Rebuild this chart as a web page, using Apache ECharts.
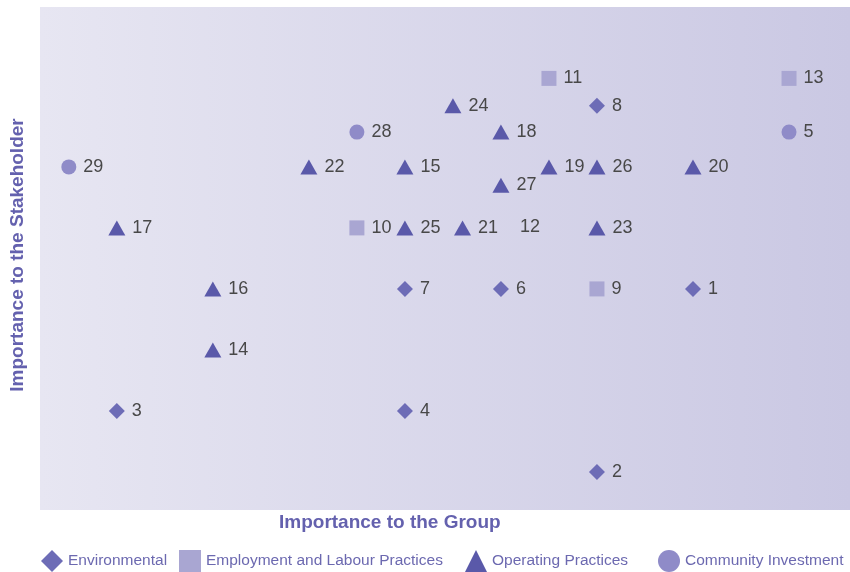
<!DOCTYPE html>
<html>
<head>
<meta charset="utf-8">
<script src="https://cdn.jsdelivr.net/npm/echarts@6/dist/echarts.min.js"></script>
<style>html,body{margin:0;padding:0;background:#fff;}#c{width:850px;height:572px;}</style>
</head>
<body>
<div id="c"></div>
<script>
// [id, importance to group, importance to stakeholder]
const environmental = [[8,12,7],[7,8,4],[6,10,4],[1,14,4],[3,2,2],[4,8,2],[2,12,1]];
const employment = [[11,11,7.45],[13,16,7.45],[10,7,5],[9,12,4]];
const operating = [[24,9,7],[18,10,6.57],[22,6,6],[15,8,6],[19,11,6],[26,12,6],[20,14,6],[27,10,5.7],[17,2,5],[25,8,5],[21,9.2,5],[23,12,5],[16,4,4],[14,4,3]];
const community = [[28,7,6.57],[29,1,6],[5,16,6.57]];
const unmarked = [[12,10.25,5.02]];
const seriesNames = ['Environmental','Employment and Labour Practices','Operating Practices','Community Investment'];
const xTitle = 'Importance to the Group';
const yTitle = 'Importance to the Stakeholder';

const colors = {env:'#6d6cb6', emp:'#a9a6d2', op:'#5a59a9', com:'#8f8bc8'};
const labelStyle = {show:true, position:'right', distance:7, color:'#484848', fontSize:18, fontFamily:'Liberation Sans, Arial, sans-serif', formatter:p=>p.value[2]};
function toData(arr){return arr.map(d=>({value:[d[1],d[2],d[0]]}));}

const chart = echarts.init(document.getElementById('c'), null, {renderer:'canvas'});
const legendBase = {top:550, itemWidth:22, itemHeight:22, itemGap:5, padding:0, textStyle:{color:'#6c69b0', fontSize:15.5, fontFamily:'Liberation Sans, Arial, sans-serif'}};
chart.setOption({
  animation:false,
  grid:{left:40, right:0, top:7, bottom:62, show:true, borderWidth:0,
    backgroundColor:new echarts.graphic.LinearGradient(0,0,1,0,[{offset:0,color:'#e7e6f2'},{offset:1,color:'#cac8e3'}])},
  xAxis:{type:'value', min:0.4, max:17.27, axisLine:{show:false}, axisTick:{show:false}, axisLabel:{show:false}, splitLine:{show:false}},
  yAxis:{type:'value', min:0.377, max:8.62, axisLine:{show:false}, axisTick:{show:false}, axisLabel:{show:false}, splitLine:{show:false}},
  legend:[
    Object.assign({left:41, data:[{name:seriesNames[0], icon:'diamond'}]}, legendBase),
    Object.assign({left:179, data:[{name:seriesNames[1], icon:'rect'}]}, legendBase),
    Object.assign({left:465, data:[{name:seriesNames[2], icon:'triangle'}]}, legendBase),
    Object.assign({left:658, data:[{name:seriesNames[3], icon:'circle'}]}, legendBase)
  ],
  graphic:[
    {type:'text', style:{text:xTitle, fill:'#6461ae', font:'bold 19px Liberation Sans, Arial, sans-serif', align:'left', verticalAlign:'middle'}, x:279, y:523},
    {type:'text', rotation:Math.PI/2, style:{text:yTitle, fill:'#6461ae', font:'bold 19px Liberation Sans, Arial, sans-serif', align:'center', verticalAlign:'middle'}, x:18, y:255}
  ],
  series:[
    {name:seriesNames[0], type:'scatter', symbol:'diamond', symbolSize:[16,16], itemStyle:{color:colors.env, opacity:1}, label:labelStyle, data:toData(environmental)},
    {name:seriesNames[1], type:'scatter', symbol:'rect', symbolSize:15, itemStyle:{color:colors.emp, opacity:1}, label:labelStyle, data:toData(employment)},
    {name:seriesNames[2], type:'scatter', symbol:'triangle', symbolSize:[17,15], itemStyle:{color:colors.op, opacity:1}, label:labelStyle, data:toData(operating).concat(toData(unmarked).map(d=>Object.assign(d,{symbolSize:0})))},
    {name:seriesNames[3], type:'scatter', symbol:'circle', symbolSize:15, itemStyle:{color:colors.com, opacity:1}, label:labelStyle, data:toData(community)}
  ]
});
</script>
</body>
</html>
